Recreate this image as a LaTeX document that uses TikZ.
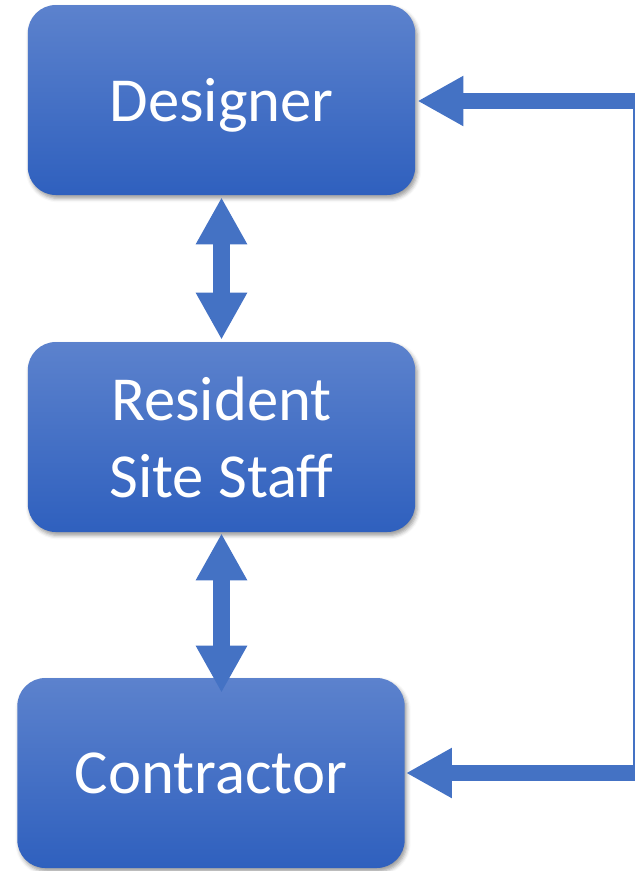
\documentclass[tikz,border=0pt]{standalone}
\usepackage{fontspec}
\setmainfont{Carlito}
\usetikzlibrary{arrows.meta,positioning,shadows.blur}
\definecolor{boxtop}{RGB}{92,130,205}
\definecolor{boxbot}{RGB}{47,96,190}
\definecolor{arrowblue}{RGB}{68,114,196}

\begin{document}
\begin{tikzpicture}[x=0.75pt, y=-0.75pt,
    box/.style={rectangle, rounded corners=21pt, top color=boxtop, bottom color=boxbot, minimum width=290.5pt, minimum height=142.5pt, align=center, text=white, font=\fontsize{47}{57.75}\selectfont, blur shadow={shadow xshift=1.5pt, shadow yshift=-2.5pt, shadow blur radius=3pt, shadow opacity=40}},
    dblarrow/.style={{Triangle[width=36pt,length=35.25pt]}-{Triangle[width=36pt,length=35.25pt]}, line width=12.75pt, draw=arrowblue},
    arrow/.style={-{Triangle[width=35.25pt,length=34.5pt]}, line width=12pt, draw=arrowblue},
    feedback/.style={line width=1.5pt, draw=arrowblue}
]
\useasboundingbox (0,0) rectangle (635,871);

\node[box, text depth=0pt] (designer) at (221.5,100) {Designer};
\node[box] (resident) at (221.5,437) {Resident\\Site Staff};
\node[box] (contractor) at (211,773) {Contractor};

\draw[dblarrow] ([yshift=-1.5pt]designer.south) -- ([yshift=1.5pt]resident.north);
\draw[dblarrow] ([yshift=-0.75pt]resident.south) -- ([yshift=-11.25pt]resident.south |- contractor.north);

% feedback loop on the right
\coordinate (fbtop) at (634,101);
\coordinate (fbbot) at (634,773);
\draw[feedback] ([yshift=6pt]fbtop) -- ([yshift=-6pt]fbbot);
\draw[arrow] ([xshift=0.75pt]fbtop) -- ([xshift=1.5pt]designer.east |- fbtop);
\draw[arrow] ([xshift=0.75pt]fbbot) -- ([xshift=0.75pt]contractor.east |- fbbot);

\end{tikzpicture}
\end{document}
